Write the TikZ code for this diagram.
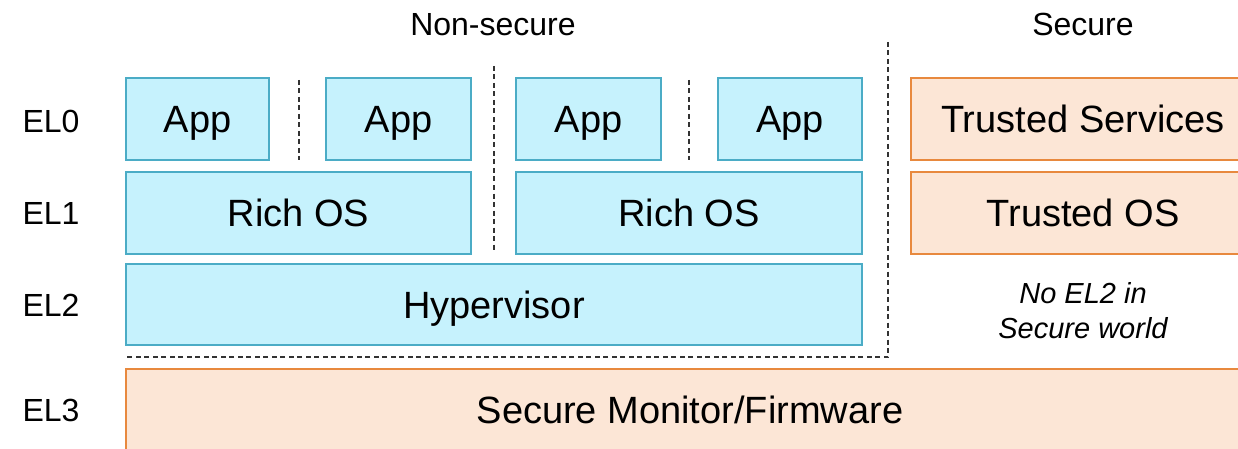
\documentclass[tikz,border=0pt]{standalone}
\usepackage{fontspec}
\setmainfont{Liberation Sans}
\definecolor{nsfill}{HTML}{C6F2FD}
\definecolor{nsline}{HTML}{4BACC6}
\definecolor{sfill}{HTML}{FCE6D6}
\definecolor{sline}{HTML}{E8893E}
\begin{document}
\begin{tikzpicture}[x=1pt,y=-1pt,
  layer/.style={line width=1.6pt,inner sep=0pt,outer sep=0pt,
    font=\fontsize{38}{40}\selectfont,text height=27pt,text depth=0pt,
    minimum height=82pt},
  nsbox/.style={layer,draw=nsline,fill=nsfill},
  sbox/.style={layer,draw=sline,fill=sfill},
  eltext/.style={font=\fontsize{32}{36}\selectfont,inner sep=0pt,
    text height=23pt,text depth=0pt},
  sep/.style={draw=black!80,line width=1.3pt,dash pattern=on 5pt off 3.5pt}]
\useasboundingbox (0,0) rectangle (1238,449);
\clip (0,0) rectangle (1238,449);

% Non-secure world
\node[nsbox,minimum width=143pt] (app1) at (197.5,119) {App};
\node[nsbox,minimum width=145pt] (app2) at (398.5,119) {App};
\node[nsbox,minimum width=145pt] (app3) at (588.5,119) {App};
\node[nsbox,minimum width=144pt] (app4) at (790,119) {App};
\node[nsbox,minimum width=345pt] (os1) at (298.5,213) {Rich OS};
\node[nsbox,minimum width=346pt] (os2) at (689,213) {Rich OS};
\node[nsbox,minimum width=736pt,minimum height=81pt] (hyp) at (494,304.5) {Hypervisor};

% Secure world (boxes run on past the right edge)
\node[sbox,minimum width=339pt] (ts) at (1080.5,119) {};
\node[font=\fontsize{38}{40}\selectfont,inner sep=0pt,text height=27pt,text depth=0pt]
  (tstext) at (1083,119) {Trusted Services};
\node[sbox,minimum width=339pt] (tos) at (1080.5,213) {};
\node[font=\fontsize{38}{40}\selectfont,inner sep=0pt,text height=27pt,text depth=0pt]
  (tostext) at (1083,213) {Trusted OS};
\node[sbox,minimum width=1124pt,minimum height=100pt] (mon) at (688,419) {};
\node[font=\fontsize{38}{40}\selectfont,inner sep=0pt,text height=27pt,text depth=0pt]
  (montext) at (690,410) {Secure Monitor/Firmware};

\node[font=\fontsize{29}{35}\selectfont\itshape,align=center] (noel2) at (1083,311)
  {No EL2 in\\Secure world};

% Separators between guests and between the two worlds
\coordinate (d1a) at (299,80);  \coordinate (d1b) at (299,160);
\coordinate (d2a) at (494,66);  \coordinate (d2b) at (494,252);
\coordinate (d3a) at (689,80);  \coordinate (d3b) at (689,160);
\coordinate (wtop) at (888,42); \coordinate (wcorner) at (888,357);
\coordinate (wleft) at (126,357);
\draw[sep] (d1a) -- (d1b);
\draw[sep] (d2a) -- (d2b);
\draw[sep] (d3a) -- (d3b);
\draw[sep] (wtop) -- (wcorner) -- (wleft);

% Headings and exception levels
\node[eltext] (hns) at (493,24) {Non-secure};
\node[eltext] (hs) at (1083,24) {Secure};
\node[eltext] (el0) at (51,121) {EL0};
\node[eltext] (el1) at (51,213) {EL1};
\node[eltext] (el2) at (51,305) {EL2};
\node[eltext] (el3) at (51,410) {EL3};
\end{tikzpicture}
\end{document}
